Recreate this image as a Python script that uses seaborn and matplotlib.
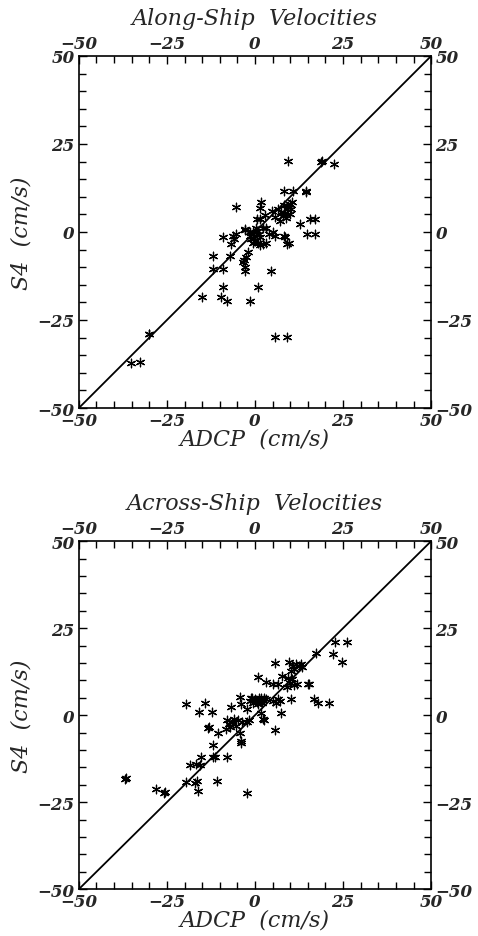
"""
ADCP vs S4 current meter comparison, along- and across-ship
"""
import numpy as np
import pandas as pd
import matplotlib
matplotlib.use("Agg")
import matplotlib.pyplot as plt
from matplotlib.ticker import MultipleLocator
import seaborn as sns

# Along-ship velocities (cm/s)
along_adcp = [-35.1, -32.7, -30.2, -30.0, 5.6, 9.2,
              -15.0, -9.7, -7.9, -1.5, -9.1, 0.9,
              -11.9, -9.0, -2.8, 4.4, -11.9, -7.1, -3.4, -2.9, -2.5, -2.0, -3.0,
              -9.0, -6.2, -6.7, -6.0, -5.5,
              -2.9, -1.4, -0.5, 0.5, 1.0, -1.0, 0.0, -0.5, 1.3, -1.5, 0.3, 0.8, -0.2,
              2.4, 1.5, 3.2, 2.3, 3.2, 4.0, 5.1,
              5.7, 8.1, 8.5, 9.0, 9.6,
              0.5, -2.8, 2.7, 1.3, 4.7, 5.6, 1.7, 1.4, -5.4,
              8.0, 8.5, 9.0, 9.5, 10.0, 8.2, 9.8, 10.2, 8.8, 7.5, 9.3, 10.5, 7.0, 6.5,
              8.1, 10.8, 14.4, 14.6,
              12.7, 15.5, 17.0, 14.7, 17.0,
              9.4, 18.8, 19.0, 22.3]
along_s4 = [-37.1, -37.0, -28.9, -29.0, -29.8, -29.8,
            -18.6, -18.6, -19.7, -19.7, -15.7, -15.7,
            -10.5, -10.5, -11.2, -11.0, -6.7, -6.7, -8.6, -10.0, -7.1, -5.7, -8.0,
            -1.5, -1.0, -3.3, -2.0, -0.5,
            0.5, -1.1, -0.1, 0.3, -0.5, -2.0, -2.5, -3.0, -1.5, 0.0, 1.2, -3.2, -1.0,
            -3.4, -3.8, -3.0, 1.0, 1.0, -0.5, 0.0,
            -1.0, -1.0, -1.5, -3.4, -3.0,
            3.7, 0.9, 4.7, 3.8, 6.1, 4.2, 8.4, 6.8, 7.2,
            4.5, 5.5, 6.5, 7.5, 5.0, 7.8, 8.0, 6.5, 4.0, 5.8, 7.0, 8.5, 3.0, 6.5,
            11.7, 11.6, 11.6, 11.5,
            2.2, 3.6, 3.6, -0.7, -0.7,
            20.2, 19.8, 20.1, 19.3]

# Across-ship velocities (cm/s)
across_adcp = [-36.8, -36.6,
               -28.1, -25.6, -25.8,
               -19.6, -16.6, -16.9, -16.3, -10.7, -2.2,
               -18.5, -15.6, -16.7,
               -15.4, -11.4, -11.8, -8.0,
               -12.0,
               -19.6, -14.2, -15.8, -12.3,
               -13.4, -13.2, -10.6,
               -8.0, -7.5, -7.0, -6.5, -6.0, -5.5, -8.2, -4.8, -3.7, -4.3, -2.4, -1.6,
               -4.0, -4.0,
               -6.8, -4.4, -4.0, -2.4,
               -1.5, -1.0, -0.5, 0.0, 0.5, 1.0, 1.5, 2.0, 2.5, 3.1, -0.8, 0.8, 1.8,
               1.7, 2.6, 2.4,
               5.0, 6.0, 7.0, 6.4,
               5.8, 7.4, 10.2,
               0.9, 3.1, 5.0, 6.4, 7.8, 9.5, 10.0, 11.0, 10.5, 9.2, 12.0,
               5.8, 9.7, 10.7, 11.5, 12.5, 13.0, 11.0, 13.3, 10.2,
               15.0, 15.3, 16.8, 17.8, 20.9,
               17.3, 22.2, 22.8, 26.0, 24.7]
across_s4 = [-18.4, -18.2,
             -21.3, -22.0, -22.5,
             -19.1, -18.9, -19.4, -21.8, -18.9, -22.5,
             -14.4, -14.4, -14.0,
             -11.9, -11.9, -12.1, -11.9,
             -8.6,
             3.3, 3.4, 0.9, 0.9,
             -3.7, -3.5, -5.1,
             -1.5, -2.5, -3.5, -2.0, -1.2, -3.0, -4.0, -1.5, -2.0, -5.0, -2.0, -1.5,
             -7.5, -7.9,
             2.3, 5.1, 3.1, 1.7,
             4.0, 5.0, 3.5, 4.5, 3.8, 5.0, 4.2, 3.5, 4.8, 4.5, 4.8, 3.3, 4.9,
             0.7, -1.3, -1.1,
             4.0, 3.5, 4.0, 4.5,
             -4.3, 0.7, 4.5,
             11.0, 9.4, 8.9, 8.9, 11.3, 10.8, 9.2, 8.8, 10.5, 8.2, 9.0,
             14.9, 15.2, 14.0, 14.6, 14.2, 14.6, 13.2, 13.8, 12.6,
             8.9, 9.0, 4.5, 3.6, 3.4,
             17.8, 17.6, 20.9, 20.9, 15.2]

panels = [
    ("Along-Ship  Velocities", along_adcp, along_s4, [0.165, 0.5635, 0.737, 0.3757]),
    ("Across-Ship  Velocities", across_adcp, across_s4, [0.165, 0.050, 0.737, 0.3714]),
]

sns.set_style("ticks")
plt.rcParams["font.family"] = ["DejaVu Serif"]
plt.rcParams["font.style"] = "italic"

fig = plt.figure(figsize=(4.78, 9.37), dpi=100)

for title, adcp, s4, rect in panels:
    ax = fig.add_axes(rect)
    df = pd.DataFrame({"ADCP": adcp, "S4": s4})

    # 1:1 line
    ax.plot([-50, 50], [-50, 50], color="black", lw=1.3, zorder=1)

    sns.scatterplot(data=df, x="ADCP", y="S4", ax=ax, marker=(6, 2, 0),
                    color="black", s=38, linewidth=0.9, zorder=2, legend=False)

    ax.set_xlim(-50, 50)
    ax.set_ylim(-50, 50)
    ax.xaxis.set_major_locator(MultipleLocator(25))
    ax.yaxis.set_major_locator(MultipleLocator(25))
    ax.xaxis.set_minor_locator(MultipleLocator(5))
    ax.yaxis.set_minor_locator(MultipleLocator(5))
    ax.tick_params(which="both", direction="in", top=True, right=True,
                   labeltop=True, labelright=True, labelsize=12, width=1,
                   color="black")
    ax.tick_params(which="major", length=6, pad=3)
    ax.tick_params(which="minor", length=5)
    for lab in ax.get_xticklabels() + ax.get_yticklabels():
        lab.set_fontweight("bold")
    for sp in ax.spines.values():
        sp.set_linewidth(1.2)
        sp.set_color("black")

    ax.set_xlabel("ADCP  (cm/s)", fontsize=16, labelpad=-1)
    ax.set_ylabel("S4  (cm/s)", fontsize=16, labelpad=4)
    ax.set_title(title, fontsize=16, y=1.068)

fig.savefig("out.png", dpi=100)
